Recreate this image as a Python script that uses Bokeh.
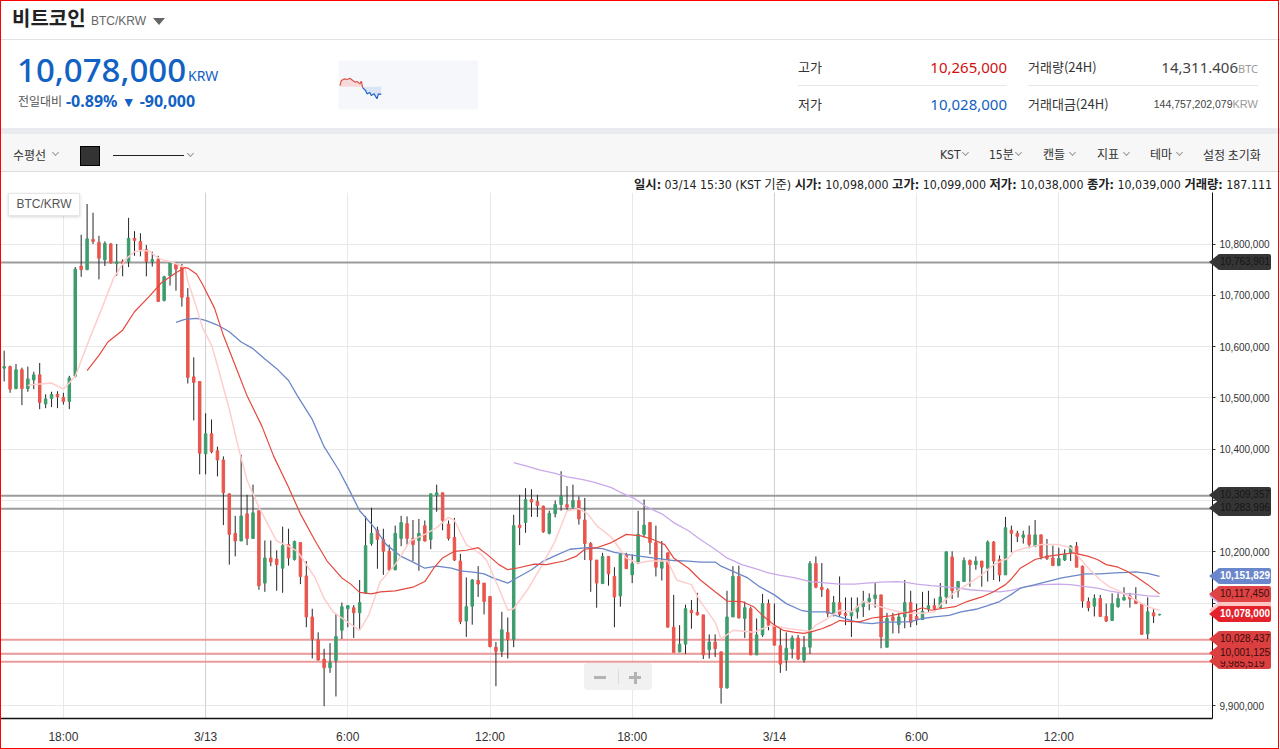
import numpy as np
import pandas as pd
from bokeh.plotting import figure
from bokeh.models import (ColumnDataSource, Range1d, FixedTicker, NumeralTickFormatter,
                          Span, Div, GridBox)
from bokeh.layouts import column, row
from bokeh.embed import file_html
from bokeh.resources import INLINE

# ------------------------------------------------------------------ data
# 15-minute candles, BTC/KRW, values in thousands of KRW
first_candle = "2018-03-12 15:30"
open_k = [10558,10561,10518,10555,10518,10535,10545,10488,10499,10507,
          10501,10493,10542,10757,10750,10809,10803,10769,10800,10762,
          10766,10766,10811,10805,10789,10766,10770,10690,10738,10761,
          10755,10696,10541,10532,10391,10430,10397,10379,10313,10236,
          10221,10274,10226,10280,10139,10188,10186,10168,10214,10185,
          10218,10153,10073,10028,9991,9974,9988,10047,10089,10091,
          10081,10120,10216,10242,10224,10201,10165,10226,10255,10226,
          10222,10251,10224,10310,10315,10254,10228,10182,10065,10094,
          10144,10139,10113,10014,10006,10043,10029,10252,10257,10302,
          10298,10289,10236,10274,10292,10292,10287,10300,10262,10216,
          10184,10138,10191,10152,10114,10195,10155,10178,10234,10257,
          10218,10168,10198,10053,10005,10020,10086,10082,10077,10009,
          10024,10005,9935,10073,10152,10070,10089,9999,10038,10099,
          10057,10017,9989,10011,10032,9989,10014,10177,10131,10126,
          10080,10101,10080,10075,10083,10093,10103,10109,10116,10014,
          10073,10058,10073,10101,10074,10068,10089,10095,10091,10112,
          10190,10124,10142,10183,10175,10182,10168,10219,10185,10155,
          10242,10236,10228,10233,10211,10233,10192,10188,10173,10184,
          10198,10211,10172,10103,10094,10109,10074,10066,10093,10106,
          10114,10106,10098,10040,10081,10077]
high_k = [10592,10563,10566,10559,10561,10551,10568,10507,10512,10513,
          10510,10543,10755,10818,10878,10861,10816,10805,10802,10800,
          10770,10851,10825,10821,10798,10785,10777,10738,10767,10764,
          10761,10714,10579,10532,10470,10458,10405,10386,10313,10270,
          10389,10311,10331,10280,10222,10222,10203,10249,10245,10222,
          10218,10182,10089,10043,10011,10022,10080,10101,10095,10096,
          10145,10270,10286,10249,10245,10214,10251,10270,10269,10262,
          10264,10261,10313,10331,10315,10261,10266,10196,10150,10147,
          10172,10139,10113,10024,10083,10072,10272,10311,10324,10322,
          10311,10290,10280,10300,10357,10328,10331,10308,10305,10219,
          10184,10198,10191,10170,10195,10198,10195,10280,10302,10257,
          10251,10221,10198,10116,10057,10097,10106,10120,10077,10039,
          10039,10005,10124,10172,10173,10103,10093,10070,10118,10107,
          10099,10050,10043,10037,10038,10036,10182,10191,10178,10129,
          10114,10152,10111,10111,10111,10124,10119,10139,10116,10081,
          10081,10081,10145,10124,10099,10122,10124,10109,10139,10200,
          10201,10142,10189,10185,10191,10182,10222,10221,10193,10268,
          10251,10241,10241,10251,10262,10233,10225,10212,10208,10205,
          10213,10219,10173,10111,10117,10116,10099,10119,10119,10131,
          10120,10131,10099,10111,10089,10079]
low_k = [10532,10510,10517,10486,10512,10517,10478,10480,10482,10480,
         10487,10478,10540,10736,10749,10800,10731,10757,10762,10738,
         10737,10755,10777,10776,10737,10756,10687,10688,10719,10709,
         10678,10528,10456,10351,10351,10392,10347,10252,10175,10191,
         10221,10213,10226,10126,10122,10172,10124,10120,10173,10183,
         10137,10053,9992,9988,9899,9964,9918,10030,10053,10032,
         10050,10119,10212,10167,10155,10163,10164,10211,10214,10182,
         10163,10220,10205,10278,10242,10222,10182,10059,10034,10058,
         10112,10078,10014,9938,9995,9992,10014,10213,10237,10268,
         10268,10237,10234,10267,10280,10282,10284,10253,10184,10122,
         10091,10138,10134,10053,10093,10167,10139,10176,10228,10195,
         10152,10144,10053,10004,10004,10001,10050,10076,9991,9992,
         9995,9904,9933,10073,10070,10032,9999,9999,10034,10047,
         10018,9964,9968,9992,9989,9984,10001,10129,10112,10073,
         10074,10073,10057,10034,10070,10073,10086,10091,10012,10014,
         10041,10041,10051,10053,10057,10067,10083,10086,10089,10099,
         10108,10111,10142,10132,10165,10132,10142,10145,10142,10155,
         10199,10219,10216,10207,10209,10185,10184,10173,10173,10182,
         10182,10170,10091,10084,10074,10073,10063,10065,10091,10105,
         10091,10099,10038,10030,10061,10076]
close_k = [10561,10517,10555,10518,10537,10545,10491,10498,10507,10502,
           10493,10539,10751,10750,10810,10805,10772,10801,10763,10765,
           10762,10811,10807,10789,10766,10770,10688,10736,10764,10751,
           10696,10540,10530,10392,10430,10395,10379,10315,10234,10221,
           10270,10226,10276,10134,10188,10180,10175,10212,10188,10220,
           10152,10073,10030,9989,9974,9984,10035,10093,10095,10081,
           10101,10212,10236,10224,10201,10165,10236,10257,10226,10214,
           10236,10221,10313,10315,10261,10226,10184,10064,10093,10145,
           10137,10103,10015,10006,10048,10029,10251,10247,10302,10297,
           10290,10239,10275,10292,10308,10287,10300,10264,10216,10184,
           10139,10191,10157,10112,10195,10167,10177,10234,10252,10218,
           10170,10182,10053,10004,10020,10089,10081,10077,9999,10024,
           10011,9935,10073,10152,10071,10091,9999,10038,10099,10057,
           10018,9981,10012,10032,9991,10014,10177,10131,10126,10080,
           10101,10078,10076,10084,10093,10103,10109,10116,10034,10070,
           10066,10073,10101,10062,10068,10084,10095,10089,10112,10200,
           10124,10142,10183,10175,10182,10170,10219,10182,10155,10247,
           10236,10230,10233,10214,10233,10191,10187,10173,10187,10195,
           10211,10170,10104,10091,10109,10074,10065,10099,10109,10111,
           10108,10099,10039,10083,10075,10078]

# moving-average lines: (candle number, value in thousands KRW)
ma_pink = [(5,10524),(6,10526),(9,10529),(11,10517),(13,10542),(15,10603),(17.5,10675),(19.5,10734),
           (21.5,10770),(23,10785),(24.5,10788),(25.5,10786),(26.5,10777),(27.5,10770),(29.5,10764),
           (30.5,10759),(31.5,10754),(32,10728),(33.5,10675),(34.5,10636),(36,10603),(37,10563),(39,10478),
           (40.5,10405),(42,10339),(44,10287),(45.5,10254),(47,10221),(49,10211),(50.5,10201),(52,10175),
           (53.5,10149),(55,10109),(56.5,10083),(59,10063),(61,10047),(62.5,10076),(64.5,10142),(67,10175),
           (69.5,10221),(72,10234),(74,10247),(76,10267),(77,10261),(79,10214),(81.5,10195),(82.5,10182),
           (84.5,10129),(86,10086),(87,10089),(89.5,10129),(91.5,10168),(94,10221),(96,10280),(98,10284),
           (99.5,10274),(101,10251),(103.5,10228),(106,10188),(108,10178),(110,10182),(113,10182),
           (114.5,10145),(117,10136),(118.5,10103),(121,10063),(122,10030),(124,10047),(127.5,10043),
           (130.5,10057),(133.5,10050),(137,10045),(138,10057),(140,10070),(142,10086),(144,10083),
           (146,10103),(148,10096),(150,10089),(152,10083),(154,10080),(156,10080),(158,10083),
           (159.5,10103),(161.5,10122),(163.5,10136),(166,10155),(168,10175),(170.5,10188),(171.5,10201),
           (173.5,10208),(176,10214),(179,10214),(181,10208),(182,10195),(184,10168),(186,10145),
           (187.5,10132),(189.5,10122),(191.5,10109),(193.5,10096),(195,10089),(196,10086)]
ma_red = [(15,10553),(17,10583),(18.5,10609),(21,10632),(23,10668),(25.5,10698),(27.5,10724),(30,10744),
          (31.5,10754),(32,10753),(33.5,10741),(34.5,10721),(36.5,10675),(38,10622),(40,10563),(42,10504),
          (44.5,10445),(46.5,10386),(49,10326),(51,10274),(53.5,10221),(55.5,10182),(58,10149),(59.5,10137),
          (61,10121),(63,10118),(64.5,10122),(67,10124),(70,10131),(72,10142),(73.5,10168),(75,10188),
          (77,10201),(79,10203),(81,10208),(82.5,10195),(84.5,10175),(86,10165),(87.5,10168),(90.5,10176),
          (92.5,10175),(95.5,10182),(97.5,10191),(99,10205),(101,10208),(103.5,10218),(106,10234),
          (108.5,10231),(110.5,10224),(112.5,10214),(114,10188),(116.5,10168),(118.5,10145),(121,10122),
          (123,10104),(125.5,10103),(127.5,10093),(129,10076),(131,10057),(132.5,10047),(134.5,10043),
          (136,10041),(137.5,10045),(139,10050),(140.5,10057),(142,10066),(144,10064),(145.5,10064),
          (147.5,10071),(149,10073),(150.5,10075),(152.5,10080),(154,10083),(156,10091),(157.5,10086),
          (159,10089),(161.5,10093),(163.5,10103),(166,10112),(168,10122),(170,10136),(171,10147),
          (172.5,10168),(175,10185),(177,10191),(179.5,10195),(181.5,10198),(184,10191),(185.5,10185),
          (187,10175),(189,10170),(190.5,10162),(192,10152),(194,10136),(196,10118)]
ma_blue = [(30,10647),(31.5,10653),(33.5,10655),(35,10651),(37,10642),(39,10629),(41,10609),(43,10596),
           (45,10576),(47,10557),(49,10534),(50.5,10504),(53,10458),(55,10405),(57.5,10359),(59,10326),
           (61,10280),(63.5,10247),(65.5,10214),(68,10191),(70,10180),(72,10168),(74,10172),(76.5,10168),
           (78,10163),(80.5,10160),(82,10157),(83.5,10149),(86,10139),(87.5,10149),(90,10165),(92,10182),
           (94.5,10195),(96.5,10205),(99.5,10208),(102,10206),(104,10199),(106,10195),(108.5,10191),
           (110.5,10188),(114,10183),(116.5,10182),(118.5,10180),(121,10180),(122,10172),(124,10162),
           (126.5,10149),(128.5,10132),(131,10116),(133,10099),(135.5,10086),(137,10083),(140,10083),
           (141.5,10075),(144,10066),(145.5,10062),(147.5,10060),(149.5,10063),(152,10063),(154,10064),
           (156,10070),(158,10073),(160.5,10076),(162.5,10083),(165,10088),(167,10095),(169,10103),
           (171,10117),(172.5,10129),(175,10136),(177,10142),(179.5,10149),(181.5,10153),(183.5,10157),
           (186,10157),(188.5,10159),(190.5,10160),(192,10161),(194,10158),(196,10152)]
ma_purple = [(87,10374),(89.5,10366),(91.5,10359),(94,10353),(96,10346),(98.5,10341),(100.5,10336),
             (103.5,10325),(105,10316),(107.5,10303),(109.5,10287),(112,10274),(114,10257),(116.5,10241),
             (118.5,10224),(121,10205),(123,10188),(125.5,10175),(127.5,10168),(130,10159),(132,10154),
             (134.5,10149),(137,10142),(140,10139),(142,10137),(144.5,10137),(146.5,10139),(149,10141),
             (151.5,10142),(153,10141),(155,10137),(157.5,10134),(159.5,10132),(162,10129),(164,10126),
             (166.5,10124),(169,10122),(171,10125),(173.5,10132),(176,10136),(179,10137),(181,10136),
             (183.5,10132),(185.5,10129),(187.5,10124),(190,10119),(192,10117),(194,10114),(196,10113)]

resistance_lines = [10763901, 10309357, 10283996]
support_lines = [9985519, 10001125, 10028437]
current_price = 10078000
ma_tag_values = {"purple": 10113000, "red": 10117450, "blue": 10151829, "pink": 10086000}

y_ticks = [9900000, 10000000, 10100000, 10200000, 10300000, 10400000,
           10500000, 10600000, 10700000, 10800000]
x_tick_hours = [18, 24, 30, 36, 42, 48, 54, 60]
x_tick_labels = ["18:00", "3/13", "6:00", "12:00", "18:00", "3/14", "6:00", "12:00"]
day_boundaries = [24, 48]

# mini daily sparkline (hours after 09:00, thousands KRW)
spark_hours = [0, 0.25, 0.75, 1.25, 1.75, 2.25, 2.75, 3.0, 3.5, 3.75, 4.0, 4.5, 4.75,
               5.25, 5.5, 6.0, 6.5, 6.75, 7.25]
spark_k = [10181, 10238, 10257, 10250, 10265, 10238, 10219, 10227, 10200, 10231, 10154,
           10123, 10085, 10100, 10066, 10085, 10028, 10085, 10078]
prev_close = 10168000

# ------------------------------------------------------------------ styles
UP = "#3d9c6c"
DOWN = "#e8564d"
WICK = "#262626"
BLUE_TXT = "#1261c4"
RED_TXT = "#d20f0f"
FONT_UI = "'Liberation Sans Narrow','DejaVu Sans Condensed','Noto Sans CJK KR',sans-serif"
FONT_KR = "'Noto Sans CJK KR',sans-serif"
FRAME_RED = "#ff0000"

K = 1000
day0 = pd.Timestamp("2018-03-12 00:00")
times = pd.date_range(pd.Timestamp(first_candle), periods=len(open_k), freq="15min")
hours = ((times - day0) / pd.Timedelta(hours=1)).to_numpy()
step_h = 0.25


def n_to_h(ns):
    return hours[0] + (np.asarray(ns, float) - 1) * step_h


o = np.array(open_k, float) * K
h = np.array(high_k, float) * K
l = np.array(low_k, float) * K
c = np.array(close_k, float) * K
src = ColumnDataSource(dict(x=hours, high=h, low=l, top=np.maximum(o, c),
                            bottom=np.minimum(o, c),
                            color=np.where(c >= o, UP, DOWN)))

# ------------------------------------------------------------------ main chart
PAGE_W = 1280
CH_H = 557
FR_W = 1212
FR_H = 526
x_lo, x_hi = 15.346, 66.485
y_lo, y_hi = 9875049, 10900390
vpp = (y_hi - y_lo) / FR_H     # price per pixel of the frame

p = figure(width=PAGE_W, height=CH_H, x_range=Range1d(x_lo, x_hi), y_range=Range1d(y_lo, y_hi),
           output_backend="svg", toolbar_location=None, y_axis_location="right",
           min_border_left=0, min_border_right=PAGE_W - FR_W, min_border_top=0,
           min_border_bottom=CH_H - FR_H, background_fill_color="white",
           border_fill_color="white", outline_line_color=None, margin=0)

p.xaxis.ticker = FixedTicker(ticks=x_tick_hours)
p.xaxis.major_label_overrides = {t: s for t, s in zip(x_tick_hours, x_tick_labels)}
p.xaxis.major_tick_out = 0
p.xaxis.major_tick_in = 0
p.xaxis.minor_tick_out = 0
p.xaxis.minor_tick_in = 0
p.xaxis.axis_line_color = "#111111"
p.xaxis.axis_line_width = 1.6
p.xaxis.major_label_standoff = 11
p.xaxis.major_label_text_font = "Liberation Sans"
p.xaxis.major_label_text_font_size = "12px"
p.xaxis.major_label_text_color = "#333333"

p.yaxis.ticker = FixedTicker(ticks=y_ticks)
p.yaxis.formatter = NumeralTickFormatter(format="0,0")
p.yaxis.major_tick_out = 3
p.yaxis.major_tick_in = 0
p.yaxis.minor_tick_out = 0
p.yaxis.minor_tick_in = 0
p.yaxis.axis_line_color = "#111111"
p.yaxis.major_tick_line_color = "#333333"
p.yaxis.major_label_standoff = 4
p.yaxis.major_label_text_font = "Liberation Sans"
p.yaxis.major_label_text_font_size = "10px"
p.yaxis.major_label_text_color = "#333333"

p.xgrid.ticker = FixedTicker(ticks=x_tick_hours)
p.ygrid.ticker = FixedTicker(ticks=y_ticks)
p.grid.grid_line_color = "#e8e8e8"
p.grid.grid_line_width = 1

for d in day_boundaries:
    p.add_layout(Span(location=d, dimension="height", line_color="#d2d2d2",
                      line_width=1, level="underlay"))
for v in resistance_lines:
    p.add_layout(Span(location=v, dimension="width", line_color="#9b9b9b",
                      line_width=2, level="underlay"))
for v in support_lines:
    p.add_layout(Span(location=v, dimension="width", line_color="#ec9b9b",
                      line_width=2, level="underlay"))

# candles
p.segment(x0="x", y0="high", x1="x", y1="low", source=src, line_color=WICK, line_width=1)
p.vbar(x="x", width=0.105, top="top", bottom="bottom", source=src,
       fill_color="color", line_color="color", line_width=1)

# moving averages
for series, col, lw in [(ma_purple, "#c9a9ea", 1.3), (ma_blue, "#6c87c8", 1.3),
                        (ma_pink, "#ffcdcd", 1.5), (ma_red, "#e4483f", 1.2)]:
    ns, vs = zip(*series)
    p.line(n_to_h(ns), np.array(vs, float) * K, line_color=col, line_width=lw)


# ------------------------------------------------------------------ overlay: price tags on the axis, widgets
def price_px(v):
    """pixel offset from the top of the chart frame for a price (same scale as the frame)"""
    return (y_hi - v) / vpp


def tag_html(v, txt, bg, fg, bold=False, text_shift=0):
    top = int(round(price_px(v) - 8))
    weight = "bold " if bold else ""
    return (f'<div style="position:absolute;left:1209px;top:{top}px;width:0;height:0;'
            f'border-top:8px solid transparent;border-bottom:8px solid transparent;'
            f'border-right:10px solid {bg};"></div>'
            f'<div style="position:absolute;left:1218px;top:{top}px;width:53px;height:16px;'
            f'background:{bg};border-radius:2px;color:{fg};'
            f"font:{weight}10px 'Liberation Sans',sans-serif;line-height:16px;padding-left:2px;"
            f'padding-top:{text_shift}px;'
            f'box-sizing:border-box;white-space:nowrap;overflow:hidden;">{txt}</div>')


DARK_BG, DARK_FG = "#353535", "#161616"
SUP_BG, SUP_FG = "#dc3f3f", "#3a0c0c"
tags = []
for v in resistance_lines:
    tags.append(tag_html(v, f"{v:,}", DARK_BG, DARK_FG))
for i, v in enumerate(support_lines):
    # the lowest support tag is mostly covered by the next one; its label sits low in the tag
    tags.append(tag_html(v, f"{v:,}", SUP_BG, SUP_FG, text_shift=3 if i == 0 else 0))
# purple and pink MA tags sit almost fully behind the next tags; only their edges show
tags.append(tag_html(ma_tag_values["purple"], "", "#c7aaea", "#3a2a55"))
tags.append(tag_html(ma_tag_values["red"], f"{ma_tag_values['red']:,}", "#de4444", "#3a0c0c"))
tags.append(tag_html(ma_tag_values["blue"], f"{ma_tag_values['blue']:,}", "#6a87cb", "#ffffff", True))
tags.append(tag_html(ma_tag_values["pink"], "", "#ffc4c4", "#ffffff"))
tags.append(tag_html(current_price, f"{current_price:,}", "#e3222b", "#ffffff", True))

overlay_html = (
    f'<div style="position:relative;width:{PAGE_W}px;height:{CH_H}px;pointer-events:none;">'
    # symbol box
    '<div style="position:absolute;left:8px;top:1px;width:72px;height:23px;box-sizing:border-box;'
    'background:#fff;border:1px solid #e6e6e6;box-shadow:0 1px 3px rgba(0,0,0,0.16);'
    "font:12px 'Liberation Sans',sans-serif;color:#555;text-align:center;line-height:21px;\">BTC/KRW</div>"
    # zoom control
    '<div style="position:absolute;left:584px;top:471px;width:68px;height:27px;background:#f1f1f1;'
    'border-radius:4px;"></div>'
    '<div style="position:absolute;left:594px;top:484px;width:12px;height:3px;background:#b3b3b3;"></div>'
    '<div style="position:absolute;left:618px;top:477px;width:1px;height:15px;background:#dcdcdc;"></div>'
    '<div style="position:absolute;left:629px;top:484px;width:12px;height:3px;background:#b3b3b3;"></div>'
    '<div style="position:absolute;left:633.5px;top:479.5px;width:3px;height:12px;background:#b3b3b3;"></div>'
    + "".join(tags)
    # capture frame edges
    + f'<div style="position:absolute;left:0;top:0;width:1px;height:{CH_H}px;background:{FRAME_RED};"></div>'
    + f'<div style="position:absolute;left:1278px;top:0;width:1px;height:{CH_H}px;background:{FRAME_RED};"></div>'
    + f'<div style="position:absolute;left:0;top:{CH_H - 1}px;width:1279px;height:1px;background:{FRAME_RED};"></div>'
    + '</div>')
overlay_div = Div(text=overlay_html, width=PAGE_W, height=CH_H, margin=0,
                  styles={"position": "relative", "z-index": "5"})

chart_box = GridBox(children=[(p, 0, 0), (overlay_div, 0, 0)], spacing=0, margin=0)


# ------------------------------------------------------------------ header
def chev(left, top):
    return (f'<div style="position:absolute;left:{left}px;top:{top}px;width:5px;height:5px;'
            f'border-right:1px solid #9a9a9a;border-bottom:1px solid #9a9a9a;'
            f'transform:rotate(45deg);"></div>')


def span(left, top, txt, size, color, lh, extra="", right=None):
    pos = f"right:{right}px;" if right is not None else f"left:{left}px;"
    return (f'<span style="position:absolute;{pos}top:{top}px;font-size:{size}px;'
            f'line-height:{lh}px;color:{color};white-space:nowrap;{extra}">{txt}</span>')


title_html = (
    f'<div style="position:relative;width:1280px;height:40px;background:#fff;overflow:hidden;'
    f'font-family:{FONT_KR};">'
    '<div style="position:absolute;left:0;top:39px;width:1280px;height:1px;background:#dfe3e8;"></div>'
    + span(12, 4, "비트코인", 20, "#222", 28, "font-weight:700;")
    + span(91, 12, "BTC/KRW", 12, "#666", 18, "font-family:'Liberation Sans',sans-serif;")
    + '<div style="position:absolute;left:153px;top:18px;width:0;height:0;'
      'border-left:6px solid transparent;border-right:6px solid transparent;'
      'border-top:7px solid #666;"></div>'
    + '<div style="position:absolute;left:0;top:0;width:1279px;height:40px;box-sizing:border-box;'
      f'border-left:1px solid {FRAME_RED};border-right:1px solid {FRAME_RED};'
      f'border-top:1px solid {FRAME_RED};"></div>'
    + '</div>')
title_div = Div(text=title_html, width=1280, height=40, margin=0)

price_html = (
    f'<div style="position:relative;width:338px;height:88px;background:#fff;overflow:hidden;'
    f'font-family:{FONT_KR};">'
    + span(17, 10, "10,078,000", 33, BLUE_TXT, 40, "font-family:'Noto Sans',sans-serif;font-weight:500;")
    + span(188, 27, "KRW", 14, BLUE_TXT, 18, "font-family:'Noto Sans',sans-serif;")
    + span(18, 52, "전일대비", 12, "#555", 18)
    + span(66, 50, '-0.89% <span style="font-size:14px;">▼</span> -90,000', 16, BLUE_TXT, 22,
           "font-family:'Noto Sans',sans-serif;font-weight:700;")
    + f'<div style="position:absolute;left:0;top:0;width:1px;height:88px;background:{FRAME_RED};"></div>'
    + '</div>')
price_div = Div(text=price_html, width=338, height=88, margin=0)

stat_html = (
    f'<div style="position:relative;width:802px;height:88px;background:#fff;overflow:hidden;'
    f'font-family:{FONT_KR};">'
    + span(320, 18, "고가", 13, "#333", 18)
    + span(0, 16, "10,265,000", 15, RED_TXT, 22, "font-family:'Noto Sans',sans-serif;", right=273)
    + '<div style="position:absolute;left:320px;top:45px;width:209px;height:1px;background:#e6e6e6;"></div>'
    + span(320, 55, "저가", 13, "#333", 18)
    + span(0, 53, "10,028,000", 15, BLUE_TXT, 22, "font-family:'Noto Sans',sans-serif;", right=273)
    + span(550, 18, "거래량(24H)", 13, "#333", 18)
    + span(0, 16, '14,311.406<span style="font-size:11px;color:#9a9a9a;">BTC</span>', 15, "#444", 22,
           "font-family:'Noto Sans',sans-serif;", right=22)
    + '<div style="position:absolute;left:550px;top:45px;width:230px;height:1px;background:#e6e6e6;"></div>'
    + span(550, 55, "거래대금(24H)", 13, "#333", 18)
    + span(0, 55, '144,757,202,079<span style="font-size:11px;color:#9a9a9a;">KRW</span>', 10.5, "#444", 18,
           "font-family:'Liberation Sans',sans-serif;", right=22)
    + f'<div style="position:absolute;left:800px;top:0;width:1px;height:88px;background:{FRAME_RED};"></div>'
    + '</div>')
stat_div = Div(text=stat_html, width=802, height=88, margin=0)

# sparkline
sp = figure(width=140, height=88, x_range=Range1d(-0.25, 24.3),
            y_range=Range1d(9905000, 10468600), output_backend="svg", toolbar_location=None,
            x_axis_type=None, y_axis_type=None, min_border_left=0, min_border_right=0,
            min_border_top=20, min_border_bottom=19, background_fill_color="#f6f7fa",
            border_fill_color="white", outline_line_color=None, margin=0)
sv = np.array(spark_k, float) * K
sp.varea(x=spark_hours, y1=prev_close, y2=np.maximum(sv, prev_close), fill_color="#f8d9d9")
sp.varea(x=spark_hours, y1=prev_close, y2=np.minimum(sv, prev_close), fill_color="#dbe5f6")
above = sv >= prev_close
cut = int(np.argmin(above)) if not above.all() else len(sv)
sp.line(spark_hours[:cut + 1], sv[:cut + 1], line_color="#d9534a", line_width=1.2)
sp.line(spark_hours[cut:], sv[cut:], line_color="#1f63c6", line_width=1.2)

# toolbar + info row
tb_items = [("KST", 940, 963), ("15분", 989, 1016), ("캔들", 1043, 1070),
            ("지표", 1097, 1124), ("테마", 1150, 1177)]
tb_html = (
    f'<div style="position:relative;width:1280px;height:64px;background:#fff;overflow:hidden;'
    f'font-family:{FONT_UI};">'
    '<div style="position:absolute;left:0;top:0;width:1280px;height:6px;background:#e9ebef;"></div>'
    '<div style="position:absolute;left:0;top:6px;width:1280px;height:38px;background:#f7f7f7;'
    'border-bottom:1px solid #dcdcdc;"></div>'
    + span(13, 18, "수평선", 12, "#333", 18, f"font-family:{FONT_KR};")
    + chev(53, 22)
    + '<div style="position:absolute;left:80px;top:18px;width:20px;height:20px;background:#333;'
      'border:1px solid #000;"></div>'
    + '<div style="position:absolute;left:113px;top:27px;width:71px;height:1px;background:#222;"></div>'
    + chev(188, 23)
    + "".join(span(x, 18, t, 12, "#333", 18) + chev(cx, 22) for t, x, cx in tb_items)
    + span(1203, 18, "설정 초기화", 12, "#333", 18, f"font-family:{FONT_KR};")
    + span(0, 49,
           '<b>일시:</b> 03/14 15:30 (KST 기준) <b>시가:</b> 10,098,000 <b>고가:</b> 10,099,000 '
           '<b>저가:</b> 10,038,000 <b>종가:</b> 10,039,000 <b>거래량:</b> 187.111',
           12.3, "#222", 16, "", right=8)
    + '<div style="position:absolute;left:0;top:0;width:1279px;height:64px;box-sizing:border-box;'
      f'border-left:1px solid {FRAME_RED};border-right:1px solid {FRAME_RED};"></div>'
    + '</div>')
tb_div = Div(text=tb_html, width=1280, height=64, margin=0)

layout = column(title_div, row(price_div, sp, stat_div, spacing=0, margin=0),
                tb_div, chart_box, spacing=0, margin=0)

with open("out.html", "w") as f:
    f.write(file_html(layout, INLINE))
